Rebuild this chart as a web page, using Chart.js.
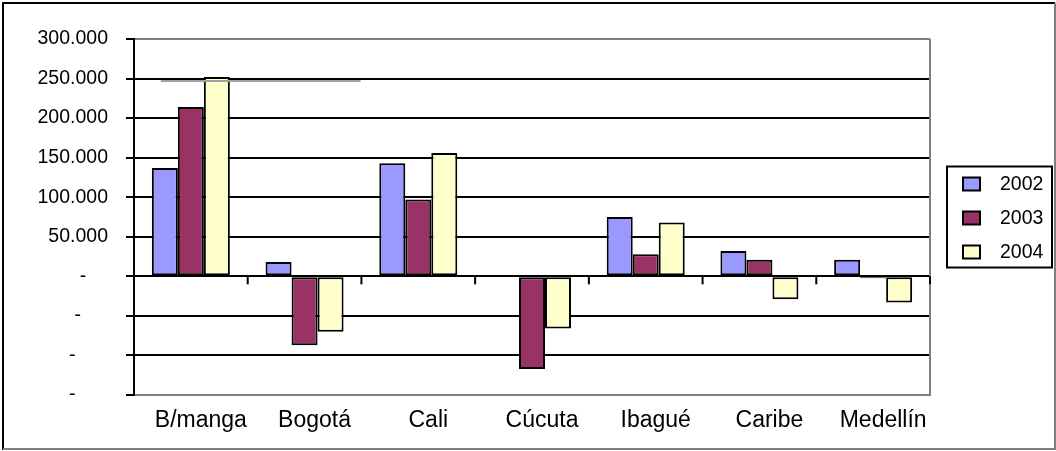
<!DOCTYPE html>
<html>
<head>
<meta charset="utf-8">
<script src="https://cdn.jsdelivr.net/npm/chart.js@4/dist/chart.umd.min.js"></script>
<style>
    html, body { margin: 0; padding: 0; background: #fff; }
    #wrap { position: relative; width: 1056px; height: 451px; }
</style>
</head>
<body>
<div id="wrap"><canvas id="chart" width="1056" height="451"></canvas></div>
<script>
// Data
const categories = ['B/manga', 'Bogotá', 'Cali', 'Cúcuta', 'Ibagué', 'Caribe', 'Medellín'];
const seriesNames = ['2002', '2003', '2004'];
const values2002 = [137000, 18000, 143000, 0, 75000, 32000, 21000];
const values2003 = [214000, -87000, 97000, -117000, 28000, 21000, -2500];
const values2004 = [252000, -70000, 156000, -66000, 68000, -29000, -33000];
const seriesColors = ['#9999FF', '#993366', '#FFFFCC'];

// y tick values and their labels (Excel shows negatives/zero as a dash)
const yTickValues = [300000, 250000, 200000, 150000, 100000, 50000, 0, -50000, -100000, -150000];
const yTickLabels = ['300.000', '250.000', '200.000', '150.000', '100.000', '50.000', '-    ', '-     ', '-      ', '-      '];

const FONT = "'Liberation Sans', Arial, sans-serif";

// frame, plot border, little ticks on the zero line, legend box
const excelDecor = {
    id: 'excelDecor',
    afterDraw(chart) {
        const ctx = chart.ctx;
        const area = chart.chartArea;
        const x = chart.scales.x;
        const y = chart.scales.y;
        ctx.save();

        // outer frame
        ctx.lineWidth = 2;
        ctx.strokeStyle = '#000';
        ctx.beginPath();
        ctx.moveTo(3, 450); ctx.lineTo(3, 3); ctx.lineTo(1055, 3);
        ctx.stroke();
        ctx.strokeStyle = '#808080';
        ctx.beginPath();
        ctx.moveTo(1055, 3); ctx.lineTo(1055, 449); ctx.lineTo(3, 449);
        ctx.stroke();

        // right edge of plot area
        ctx.strokeStyle = '#808080';
        ctx.beginPath();
        ctx.moveTo(area.right, area.top); ctx.lineTo(area.right, area.bottom);
        ctx.stroke();

        // category ticks hanging from the zero line
        const y0 = y.getPixelForValue(0);
        const step = (area.right - area.left) / categories.length;
        ctx.strokeStyle = '#000';
        for (let i = 1; i <= categories.length; i++) {
            const px = area.left + step * i;
            ctx.beginPath();
            ctx.moveTo(px, y0); ctx.lineTo(px, y0 + 8);
            ctx.stroke();
        }

        // stray grey line under the 250.000 gridline
        ctx.strokeStyle = '#a0a0a0';
        ctx.lineWidth = 2;
        const ys = y.getPixelForValue(247000);
        ctx.beginPath();
        ctx.moveTo(x.getPixelForValue(0) - 30, ys);
        ctx.lineTo(x.getPixelForValue(1) + 56, ys);
        ctx.stroke();

        // legend
        const lx = area.right + 17;
        const lh = 101;
        const ly = (area.top + area.bottom) / 2 - lh / 2;
        ctx.fillStyle = '#fff';
        ctx.fillRect(lx, ly, 105, lh);
        ctx.strokeStyle = '#000';
        ctx.lineWidth = 2;
        ctx.strokeRect(lx, ly, 105, lh);
        ctx.font = '19.5px ' + FONT;
        ctx.textBaseline = 'middle';
        ctx.textAlign = 'left';
        seriesNames.forEach((name, i) => {
            const cy = ly + 17 + i * 34;
            ctx.fillStyle = seriesColors[i];
            ctx.fillRect(lx + 16, cy - 6, 17, 13);
            ctx.strokeStyle = '#000';
            ctx.strokeRect(lx + 16, cy - 6, 17, 13);
            ctx.fillStyle = '#000';
            ctx.fillText(name, lx + 53, cy + 1);
        });
        ctx.restore();
    }
};

const allValues = [values2002, values2003, values2004];

new Chart(document.getElementById('chart'), {
    type: 'bar',
    data: {
        labels: categories,
        datasets: seriesNames.map((name, i) => ({
            label: name,
            data: allValues[i],
            backgroundColor: seriesColors[i],
            borderColor: '#000',
            borderWidth: 2,
            borderSkipped: false,
            categoryPercentage: 0.686,
            barPercentage: 1
        }))
    },
    options: {
        responsive: false,
        animation: false,
        layout: { padding: { left: 4, right: 126, top: 39, bottom: 0 } },
        plugins: {
            legend: { display: false },
            tooltip: { enabled: false }
        },
        scales: {
            x: {
                afterFit: s => { s.height = 56; },
                grid: { display: false, drawTicks: false },
                border: { display: true, color: '#808080', width: 2 },
                ticks: {
                    color: '#000',
                    font: { family: FONT, size: 23 },
                    padding: 12,
                    labelOffset: 10,
                    maxRotation: 0,
                    autoSkip: false
                }
            },
            y: {
                min: -150000,
                max: 300000,
                afterFit: s => { s.width = 130; },
                afterBuildTicks: s => { s.ticks = yTickValues.slice().reverse().map(v => ({ value: v })); },
                grid: {
                    color: c => (c.tick && (c.tick.value === 300000 || c.tick.value === -150000)) ? '#808080' : '#000',
                    tickColor: '#000',
                    lineWidth: 2,
                    tickLength: 8,
                    drawTicks: true
                },
                border: { display: true, color: '#000', width: 2 },
                ticks: {
                    color: '#000',
                    font: { family: FONT, size: 19.5 },
                    padding: 18,
                    callback: v => yTickLabels[yTickValues.indexOf(v)]
                }
            }
        }
    },
    plugins: [excelDecor]
});
</script>
</body>
</html>
